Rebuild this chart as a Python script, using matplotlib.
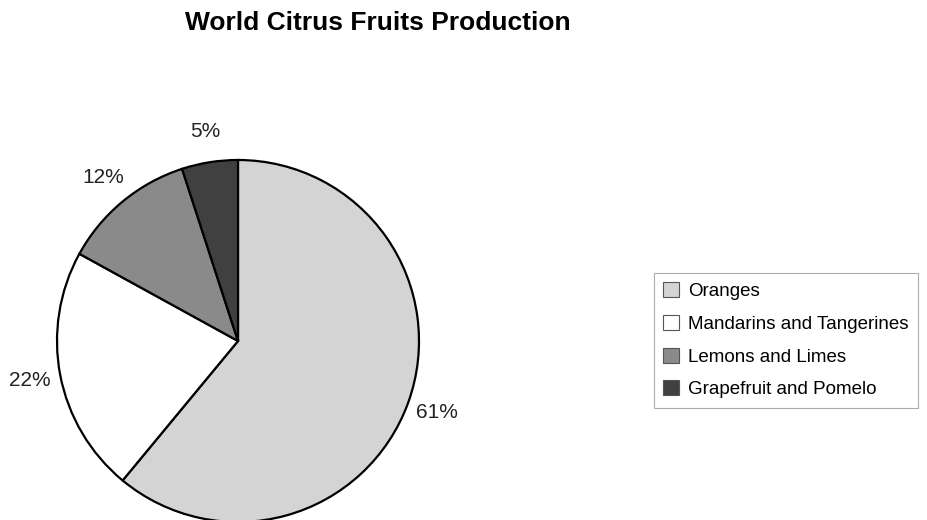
import matplotlib.pyplot as plt

plt.rcParams['font.family'] = ['Liberation Sans', 'DejaVu Sans']

categories = ['Oranges', 'Mandarins and Tangerines', 'Lemons and Limes', 'Grapefruit and Pomelo']
shares = [61, 22, 12, 5]
colors = ['#d4d4d4', '#ffffff', '#8a8a8a', '#404040']

fig = plt.figure(figsize=(9.28, 5.2), dpi=100)

# pie axes: centre ~ (238, 341) px, radius ~ 181 px
W, H = 928, 520
cx, cy, r = 238, 341, 181
ax = fig.add_axes([(cx - r) / W, (H - cy - r) / H, 2 * r / W, 2 * r / H])

wedges, texts, autotexts = ax.pie(
    shares, colors=colors, startangle=90, counterclock=False,
    autopct='%d%%', pctdistance=1.17,
    wedgeprops=dict(edgecolor='black', linewidth=1.6),
    textprops=dict(fontsize=15, color='#222222'))
ax.set_aspect('equal')
ax.set_xlim(-1, 1)
ax.set_ylim(-1, 1)
for w in wedges:
    w.set_clip_on(False)

fig.text(378 / W, 1 - 23 / H, 'World Citrus Fruits Production',
         ha='center', va='center', fontsize=19, fontweight='bold')

leg = fig.legend(wedges, categories, loc='upper left',
                 bbox_to_anchor=(654 / W, 1 - 273 / H),
                 frameon=True, fancybox=False, fontsize=13.5,
                 handlelength=0.85, handleheight=0.85, handletextpad=0.45,
                 labelspacing=0.78, borderpad=0.5, borderaxespad=0)
leg.get_frame().set_edgecolor('#999999')
leg.get_frame().set_linewidth(0.8)
for h in leg.legend_handles:
    h.set_linewidth(0.8)
    h.set_edgecolor('#555555')

fig.savefig('out.png', dpi=100)
